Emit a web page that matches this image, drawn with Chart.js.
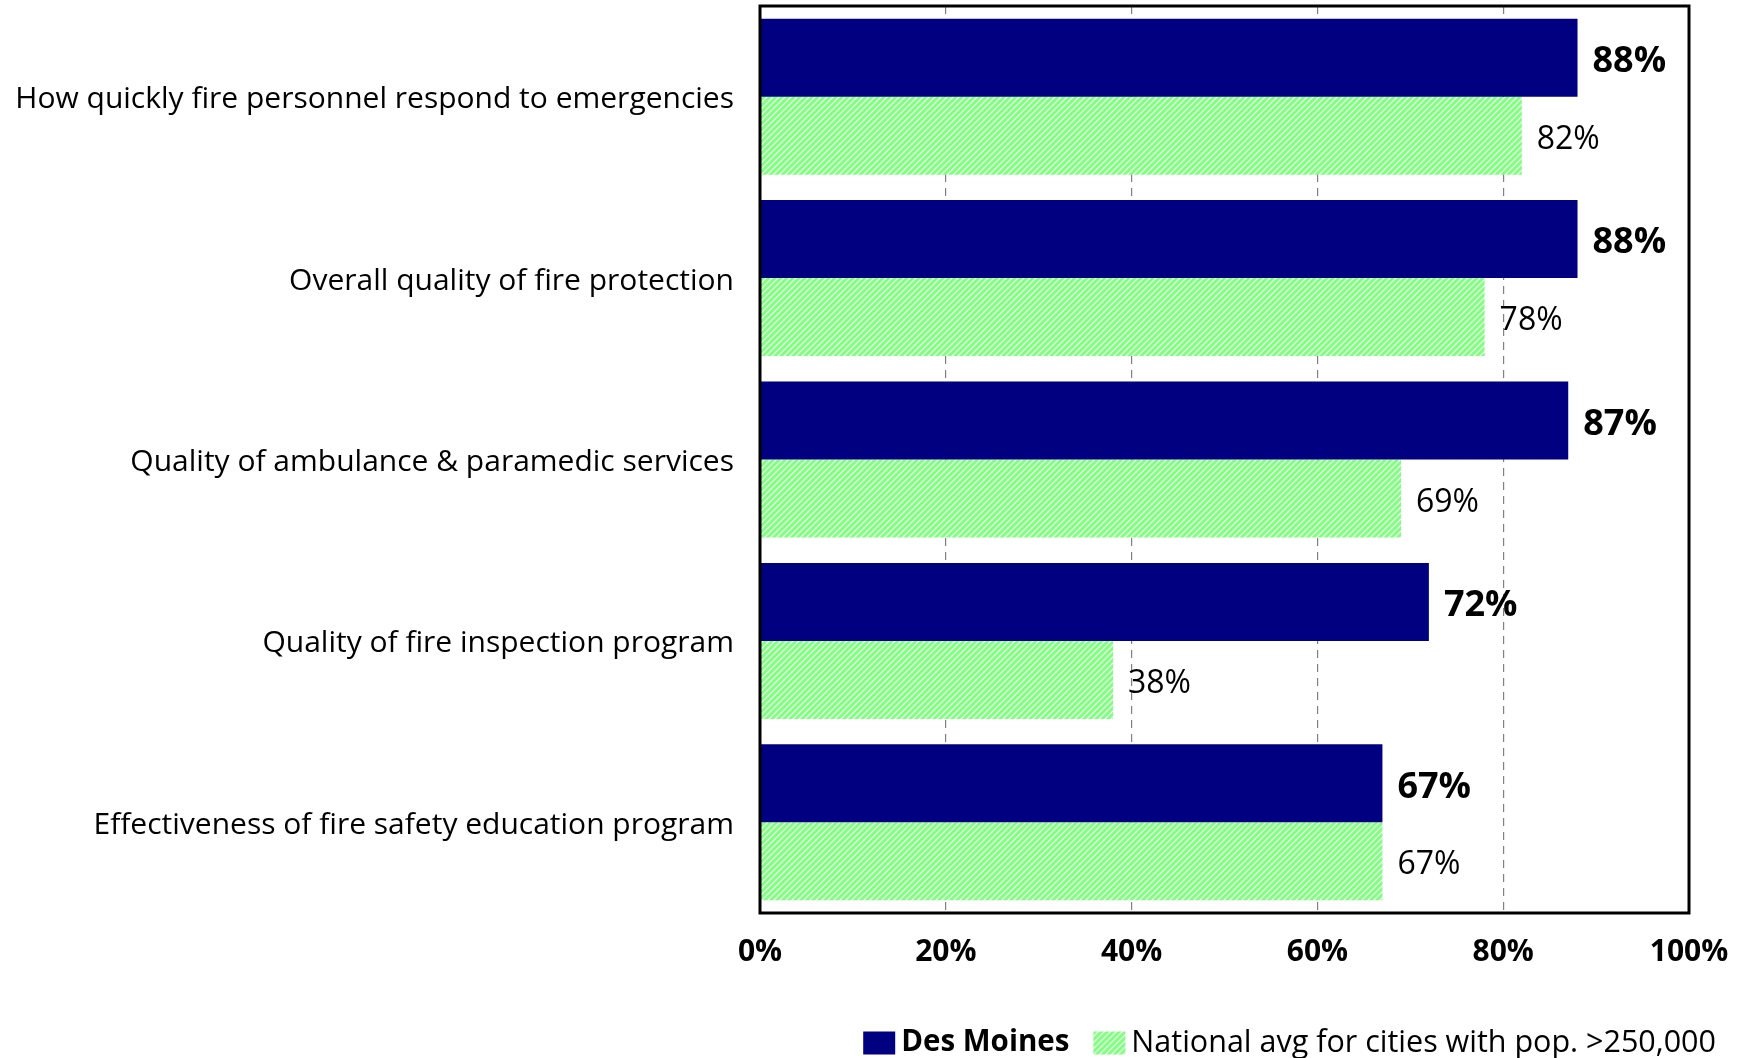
<!DOCTYPE html>
<html lang="en">
  <head>
    <meta charset="UTF-8" />
    <title>Fire services ratings</title>
    <script src="https://cdn.jsdelivr.net/npm/chart.js"></script>
    <style>
      html, body { margin: 0; padding: 0; background: #fff; }
      .wrap { width: 1744px; height: 1058px; position: relative; }
    </style>
  </head>
  <body>
    <div class="wrap"><canvas id="myChart"></canvas></div>

    <script>
      "use strict";
      const categories = [
        "How quickly fire personnel respond to emergencies",
        "Overall quality of fire protection",
        "Quality of ambulance & paramedic services",
        "Quality of fire inspection program",
        "Effectiveness of fire safety education program",
      ];
      const seriesNames = ["Des Moines", "National avg for cities with pop. >250,000"];
      const desMoines = [88, 88, 87, 72, 67];
      const nationalAvg = [82, 78, 69, 38, 67];
      const xTicks = [0, 20, 40, 60, 80, 100];

      const FONT = "'Open Sans', sans-serif";

      // green with white diagonal hatch
      function makeHatch() {
        const s = 6;
        const tile = document.createElement("canvas");
        tile.width = s;
        tile.height = s;
        const c = tile.getContext("2d");
        c.fillStyle = "#80ff80";
        c.fillRect(0, 0, s, s);
        c.strokeStyle = "#ffffff";
        c.lineWidth = 1.1;
        c.beginPath();
        c.moveTo(0, s);
        c.lineTo(s, 0);
        c.moveTo(-1, 1);
        c.lineTo(1, -1);
        c.moveTo(s - 1, s + 1);
        c.lineTo(s + 1, s - 1);
        c.stroke();
        return c.createPattern(tile, "repeat");
      }
      const hatch = makeHatch();

      const valueLabels = {
        id: "valueLabels",
        afterDatasetsDraw(chart) {
          const ctx = chart.ctx;
          ctx.save();
          ctx.fillStyle = "#000";
          ctx.textAlign = "left";
          ctx.textBaseline = "middle";
          chart.data.datasets.forEach((ds, i) => {
            ctx.font = (i === 0 ? "bold 36px " : "32px ") + FONT;
            chart.getDatasetMeta(i).data.forEach((bar, j) => {
              ctx.fillText(ds.data[j] + "%", bar.x + 15, bar.y + 4);
            });
          });
          ctx.restore();
        },
      };

      const frame = {
        id: "frame",
        afterDraw(chart) {
          const { left, top, right, bottom } = chart.chartArea;
          const ctx = chart.ctx;
          ctx.save();
          ctx.strokeStyle = "#000";
          ctx.lineWidth = 3;
          ctx.strokeRect(left, top, right - left, bottom - top);
          ctx.restore();
        },
      };

      const legendBox = {
        id: "legendBox",
        afterDraw(chart) {
          const ctx = chart.ctx;
          const ds = chart.data.datasets;
          const boxW = 32, boxH = 23, gap = 6, itemGap = 24;
          const y = 1043;
          ctx.save();
          const fonts = ["bold 29.5px " + FONT, "30.5px " + FONT];
          const widths = ds.map((d, i) => {
            ctx.font = fonts[i];
            return ctx.measureText(d.label).width;
          });
          let total = 0;
          widths.forEach((w, i) => (total += boxW + gap + w + (i ? itemGap : 0)));
          let x = chart.width - 28 - total;
          ds.forEach((d, i) => {
            if (i) x += itemGap;
            ctx.fillStyle = d.backgroundColor;
            ctx.fillRect(x, y - boxH / 2, boxW, boxH);
            x += boxW + gap;
            ctx.font = fonts[i];
            ctx.fillStyle = "#000";
            ctx.textAlign = "left";
            ctx.textBaseline = "middle";
            ctx.fillText(d.label, x, y);
            x += widths[i];
          });
          ctx.restore();
        },
      };

      new Chart(document.getElementById("myChart"), {
        type: "bar",
        data: {
          labels: categories,
          datasets: [
            {
              label: seriesNames[0],
              data: desMoines,
              backgroundColor: "#000080",
              borderWidth: 0,
              categoryPercentage: 0.86,
              barPercentage: 1.0,
            },
            {
              label: seriesNames[1],
              data: nationalAvg,
              backgroundColor: hatch,
              borderWidth: 0,
              categoryPercentage: 0.86,
              barPercentage: 1.0,
            },
          ],
        },
        options: {
          indexAxis: "y",
          responsive: true,
          maintainAspectRatio: false,
          animation: false,
          layout: {
            padding: { top: 6, right: 55, bottom: 85, left: 0 },
          },
          scales: {
            x: {
              min: 0,
              max: 100,
              afterBuildTicks: (axis) => {
                axis.ticks = xTicks.map((v) => ({ value: v }));
              },
              afterFit: (axis) => {
                axis.height = 60;
                axis.paddingLeft = 0;
                axis.paddingRight = 0;
              },
              ticks: {
                callback: (v) => v + "%",
                color: "#000",
                font: { family: FONT, size: 30, weight: "bold" },
                padding: 21,
                maxRotation: 0,
              },
              grid: {
                color: "#808080",
                lineWidth: 1.2,
                drawTicks: false,
              },
              border: { display: false, dash: [8, 6] },
            },
            y: {
              afterFit: (axis) => {
                axis.width = 760;
                axis.paddingTop = 0;
                axis.paddingBottom = 0;
              },
              ticks: {
                color: "#000",
                font: { family: FONT, size: 30 },
                padding: 26,
                labelOffset: 3,
              },
              grid: { display: false, drawTicks: false },
              border: { display: false },
            },
          },
          plugins: {
            legend: { display: false },
            tooltip: { enabled: false },
          },
        },
        plugins: [valueLabels, frame, legendBox],
      });
    </script>
  </body>
</html>
